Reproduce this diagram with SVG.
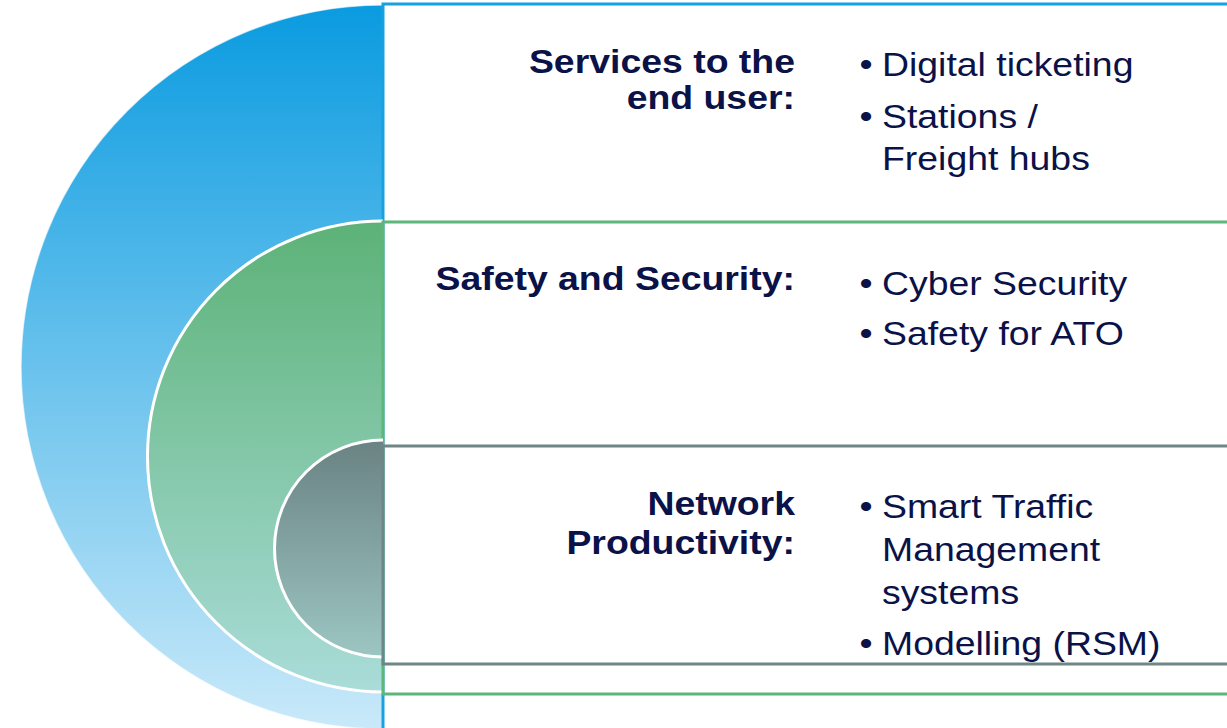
<svg xmlns="http://www.w3.org/2000/svg" width="1227" height="728" viewBox="0 0 1227 728">
<defs>
<linearGradient id="gBlue" gradientUnits="userSpaceOnUse" x1="0" y1="5" x2="0" y2="729">
<stop offset="0" stop-color="#0a9be0"/>
<stop offset="1" stop-color="#c9e9f9"/>
</linearGradient>
<linearGradient id="gGreen" gradientUnits="userSpaceOnUse" x1="0" y1="221" x2="0" y2="692">
<stop offset="0" stop-color="#5cb277"/>
<stop offset="1" stop-color="#aadcd9"/>
</linearGradient>
<linearGradient id="gGray" gradientUnits="userSpaceOnUse" x1="0" y1="440" x2="0" y2="657">
<stop offset="0" stop-color="#6a8283"/>
<stop offset="1" stop-color="#9cc6c2"/>
</linearGradient>
</defs>
<style>
.lbl{font-family:"Liberation Sans",Arial,sans-serif;font-weight:bold;font-size:34px;fill:#0a1248;text-anchor:end}
.itm{font-family:"Liberation Sans",Arial,sans-serif;font-size:34px;fill:#0a1248}
.bul{font-family:"Liberation Sans",Arial,sans-serif;font-size:34px;fill:#0a1248;text-anchor:middle}
.frame{fill:none;stroke-width:3}
.edge{fill:none;stroke:#ffffff;stroke-width:3}
</style>
<rect x="0" y="0" width="1227" height="728" fill="#ffffff"/>
<g id="node-services">
<path d="M383,5 A362,362 0 0 0 383,729 Z" fill="url(#gBlue)"/>
<path d="M383,5 A362,362 0 0 0 383,729" fill="none" stroke="#ffffff" stroke-opacity="0.6" stroke-width="1.5"/>
<rect class="frame" x="383" y="4" width="900" height="800" stroke="#16a1e1"/>
<g transform="scale(1.1 1)">
<text class="lbl" x="722.7" y="73">Services to the</text>
<text class="lbl" x="722.7" y="109">end user:</text>
<text class="bul" x="787.3" y="76">•</text>
<text class="itm" x="801.8" y="76">Digital ticketing</text>
<text class="bul" x="787.3" y="128">•</text>
<text class="itm" x="801.8" y="128">Stations /</text>
<text class="itm" x="801.8" y="170">Freight hubs</text>
</g>
</g>
<g id="node-safety">
<path d="M383,221 A235.5,235.5 0 0 0 383,692 Z" fill="url(#gGreen)"/>
<path class="edge" d="M383,221 A235.5,235.5 0 0 0 383,692"/>
<rect class="frame" x="383" y="222" width="900" height="472" stroke="#5db67a"/>
<g transform="scale(1.1 1)">
<text class="lbl" x="722.7" y="290">Safety and Security:</text>
<text class="bul" x="787.3" y="295">•</text>
<text class="itm" x="801.8" y="295">Cyber Security</text>
<text class="bul" x="787.3" y="345">•</text>
<text class="itm" x="801.8" y="345">Safety for ATO</text>
</g>
</g>
<g id="node-network">
<path d="M383,440 A108.5,108.5 0 0 0 383,657 Z" fill="url(#gGray)"/>
<path class="edge" d="M383,440 A108.5,108.5 0 0 0 383,657"/>
<rect class="frame" x="383" y="446" width="900" height="218" stroke="#6f8687"/>
<g transform="scale(1.1 1)">
<text class="lbl" x="722.7" y="515">Network</text>
<text class="lbl" x="722.7" y="554">Productivity:</text>
<text class="bul" x="787.3" y="518">•</text>
<text class="itm" x="801.8" y="518">Smart Traffic</text>
<text class="itm" x="801.8" y="561">Management</text>
<text class="itm" x="801.8" y="604">systems</text>
<text class="bul" x="787.3" y="655">•</text>
<text class="itm" x="801.8" y="655">Modelling (RSM)</text>
</g>
</g>
</svg>
